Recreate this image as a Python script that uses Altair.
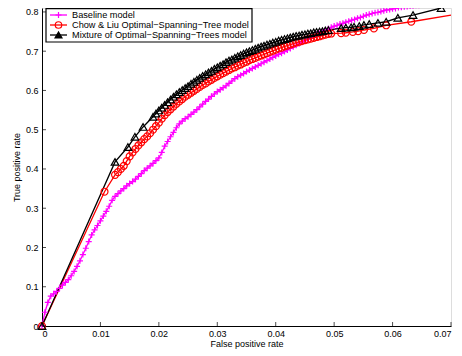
import altair as alt
import pandas as pd

# ---- data ----
base_x = [0.0, 0.0005, 0.001, 0.0015, 0.002, 0.0025, 0.003, 0.0035, 0.004, 0.0045,
          0.005, 0.0055, 0.006, 0.0065, 0.007, 0.0075, 0.008, 0.0085, 0.009, 0.0095,
          0.010, 0.0105, 0.011, 0.0115, 0.012, 0.0125, 0.013, 0.0135, 0.014, 0.0145,
          0.015, 0.0155, 0.016, 0.0165, 0.017, 0.0175, 0.018, 0.0185, 0.019, 0.0195,
          0.020, 0.0205, 0.021, 0.0215, 0.022, 0.0225, 0.023, 0.0235, 0.024, 0.0245,
          0.025, 0.0255, 0.026, 0.0265, 0.027, 0.0275, 0.028, 0.0285, 0.029, 0.0295,
          0.030, 0.0305, 0.031, 0.0315, 0.032, 0.0325, 0.033, 0.0335, 0.034, 0.0345,
          0.035, 0.0355, 0.036, 0.0365, 0.037, 0.0375, 0.038, 0.0385, 0.039, 0.0395,
          0.040, 0.0405, 0.041, 0.0415, 0.042, 0.0425, 0.043, 0.0435, 0.044, 0.0445,
          0.045, 0.0455, 0.046, 0.0465, 0.047, 0.0475, 0.048, 0.0485, 0.049, 0.0495,
          0.050, 0.0505, 0.051, 0.0515, 0.052, 0.0525, 0.053, 0.0535, 0.054, 0.0545,
          0.055, 0.0555, 0.056, 0.0565, 0.057, 0.0575, 0.058, 0.0585, 0.059, 0.0595,
          0.060, 0.0605, 0.061, 0.0615, 0.062, 0.0625, 0.063, 0.0635, 0.064, 0.0645,
          0.0649]
base_y = [0.000, 0.035, 0.060, 0.076, 0.082, 0.088, 0.096, 0.104, 0.111, 0.118,
          0.128, 0.139, 0.152, 0.166, 0.182, 0.198, 0.215, 0.232, 0.245, 0.256,
          0.268, 0.280, 0.292, 0.305, 0.320, 0.330, 0.337, 0.344, 0.350, 0.357,
          0.363, 0.368, 0.374, 0.381, 0.388, 0.396, 0.402, 0.408, 0.414, 0.421,
          0.428, 0.442, 0.458, 0.470, 0.482, 0.493, 0.505, 0.515, 0.522, 0.528,
          0.533, 0.539, 0.545, 0.551, 0.558, 0.565, 0.572, 0.578, 0.585, 0.591,
          0.597, 0.602, 0.607, 0.612, 0.618, 0.624, 0.630, 0.635, 0.639, 0.643,
          0.648, 0.652, 0.656, 0.660, 0.664, 0.668, 0.672, 0.676, 0.680, 0.684,
          0.688, 0.692, 0.695, 0.699, 0.703, 0.707, 0.711, 0.715, 0.719, 0.723,
          0.727, 0.731, 0.735, 0.738, 0.742, 0.745, 0.749, 0.753, 0.757, 0.761,
          0.764, 0.766, 0.769, 0.771, 0.774, 0.776, 0.779, 0.781, 0.784, 0.786,
          0.789, 0.792, 0.794, 0.796, 0.798, 0.799, 0.801, 0.803, 0.805, 0.806,
          0.808, 0.809, 0.811, 0.812, 0.813, 0.814, 0.815, 0.816, 0.817, 0.817,
          0.818]

chow_x = [0.0, 0.0107, 0.0125, 0.013, 0.0135, 0.014, 0.0145, 0.015, 0.0155, 0.016,
          0.0165, 0.017, 0.0175, 0.018, 0.0185, 0.019, 0.0195, 0.020, 0.0205, 0.021,
          0.0215, 0.022, 0.0225, 0.023, 0.0235, 0.024, 0.0245, 0.025, 0.0255, 0.026,
          0.0265, 0.027, 0.0275, 0.028, 0.0285, 0.029, 0.0295, 0.030, 0.0305, 0.031,
          0.0315, 0.032, 0.0325, 0.033, 0.0335, 0.034, 0.0345, 0.035, 0.0355, 0.036,
          0.0365, 0.037, 0.0375, 0.038, 0.0385, 0.039, 0.0395, 0.040, 0.0405, 0.041,
          0.0415, 0.042, 0.0425, 0.043, 0.0435, 0.044, 0.0445, 0.045, 0.0455, 0.046,
          0.0465, 0.047, 0.0475, 0.048, 0.0485, 0.049, 0.0495, 0.0512, 0.052, 0.0532,
          0.0541, 0.0551, 0.0568, 0.0589, 0.0632]
chow_y = [0.000, 0.342, 0.385, 0.392, 0.400, 0.408, 0.420, 0.432, 0.442, 0.451,
          0.460, 0.468, 0.476, 0.483, 0.491, 0.500, 0.509, 0.518, 0.528, 0.537,
          0.545, 0.552, 0.559, 0.566, 0.572, 0.578, 0.584, 0.589, 0.594, 0.599,
          0.604, 0.609, 0.614, 0.618, 0.623, 0.627, 0.632, 0.636, 0.640, 0.644,
          0.648, 0.652, 0.656, 0.659, 0.663, 0.666, 0.670, 0.673, 0.677, 0.680,
          0.683, 0.686, 0.689, 0.692, 0.695, 0.698, 0.701, 0.704, 0.707, 0.709,
          0.712, 0.714, 0.717, 0.719, 0.722, 0.724, 0.726, 0.728, 0.730, 0.732,
          0.734, 0.736, 0.738, 0.740, 0.742, 0.744, 0.745, 0.746, 0.747, 0.749,
          0.751, 0.754, 0.758, 0.766, 0.775]
chow_tail_x = [0.07]
chow_tail_y = [0.792]

mix_x = [0.0, 0.0125, 0.0147, 0.0159, 0.0173, 0.019, 0.0195, 0.020, 0.0205, 0.021,
         0.0215, 0.022, 0.0225, 0.023, 0.0235, 0.024, 0.0245, 0.025, 0.0255, 0.026,
         0.0265, 0.027, 0.0275, 0.028, 0.0285, 0.029, 0.0295, 0.030, 0.0305, 0.031,
         0.0315, 0.032, 0.0325, 0.033, 0.0335, 0.034, 0.0345, 0.035, 0.0355, 0.036,
         0.0365, 0.037, 0.0375, 0.038, 0.0385, 0.039, 0.0395, 0.040, 0.0405, 0.041,
         0.0415, 0.042, 0.0425, 0.043, 0.0435, 0.044, 0.0445, 0.045, 0.0455, 0.046,
         0.0465, 0.047, 0.0475, 0.048, 0.0485, 0.049, 0.0512, 0.052, 0.0529, 0.0534,
         0.0543, 0.0551, 0.056, 0.0575, 0.0589, 0.0609, 0.0635, 0.0683]
mix_y = [0.000, 0.418, 0.456, 0.482, 0.507, 0.533, 0.541, 0.549, 0.556, 0.563,
         0.570, 0.577, 0.584, 0.590, 0.596, 0.601, 0.606, 0.611, 0.617, 0.622,
         0.627, 0.632, 0.637, 0.641, 0.646, 0.650, 0.655, 0.659, 0.663, 0.667,
         0.672, 0.676, 0.679, 0.683, 0.687, 0.690, 0.694, 0.697, 0.700, 0.703,
         0.706, 0.709, 0.712, 0.714, 0.717, 0.719, 0.722, 0.724, 0.727, 0.729,
         0.731, 0.733, 0.735, 0.737, 0.739, 0.740, 0.742, 0.743, 0.745, 0.746,
         0.748, 0.749, 0.750, 0.751, 0.753, 0.754, 0.759, 0.760, 0.761, 0.762,
         0.764, 0.767, 0.769, 0.772, 0.775, 0.785, 0.792, 0.810]

series = ["Baseline model",
          "Chow & Liu Optimal\u2212Spanning\u2212Tree model",
          "Mixture of Optimal\u2212Spanning\u2212Trees model"]
colors = ["#ff00ff", "#ff0000", "#000000"]

x_ticks = [0, 0.01, 0.02, 0.03, 0.04, 0.05, 0.06, 0.07]
y_ticks = [0, 0.1, 0.2, 0.3, 0.4, 0.5, 0.6, 0.7, 0.8]

# ---- build tables ----
rows = []
for x, y in zip(base_x, base_y):
    rows.append({"x": x, "y": y, "series": series[0], "mk": True})
for x, y in zip(chow_x, chow_y):
    rows.append({"x": x, "y": y, "series": series[1], "mk": True})
for x, y in zip(chow_tail_x, chow_tail_y):
    rows.append({"x": x, "y": y, "series": series[1], "mk": False})
for x, y in zip(mix_x, mix_y):
    rows.append({"x": x, "y": y, "series": series[2], "mk": True})
df = pd.DataFrame(rows)

leg_df = pd.DataFrame({"series": series, "row": [0, 1, 2]})

W, H = 409, 318
FONT = "Liberation Sans"

xs = alt.Scale(domain=[0, 0.07], nice=False, zero=False)
ys = alt.Scale(domain=[0, 0.81], nice=False, zero=False)
cscale = alt.Scale(domain=series, range=colors)

common_axis = dict(grid=False, ticks=False, tickSize=0, labelOverlap=False,
                   domainColor="#000000", labelColor="#000000", titleColor="#000000",
                   labelFont=FONT, labelFontSize=9, titleFont=FONT, titleFontSize=9,
                   titleFontWeight="normal", format="~g")
xaxis = alt.Axis(values=x_ticks, title="False positive rate", labelPadding=3,
                 titlePadding=1, **common_axis)
yaxis = alt.Axis(values=y_ticks, title="True positive rate", labelPadding=4,
                 titlePadding=4, **common_axis)

base = alt.Chart(df)

lines = base.mark_line(strokeWidth=1.3).encode(
    x=alt.X("x:Q", scale=xs, axis=xaxis),
    y=alt.Y("y:Q", scale=ys, axis=yaxis),
    color=alt.Color("series:N", scale=cscale, legend=None),
)

plus_pts = base.transform_filter(alt.datum.series == series[0]).mark_point(
    shape="M-1,0H1M0,-1V1", size=36, stroke="#ff00ff", strokeWidth=1.2, fill=None, opacity=1
).encode(x=alt.X("x:Q", axis=xaxis), y=alt.Y("y:Q", axis=yaxis))

circ_pts = base.transform_filter(
    (alt.datum.series == series[1]) & (alt.datum.mk == True)
).mark_point(shape="circle", size=48, stroke="#ff0000", strokeWidth=1.2, fill=None,
             opacity=1).encode(x=alt.X("x:Q", axis=xaxis), y=alt.Y("y:Q", axis=yaxis))

tri_pts = base.transform_filter(alt.datum.series == series[2]).mark_point(
    shape="triangle-up", size=58, stroke="#000000", strokeWidth=1.2, fill=None, opacity=1
).encode(x=alt.X("x:Q", axis=xaxis), y=alt.Y("y:Q", axis=yaxis))

xt_df = pd.DataFrame({"x": x_ticks})
yt_df = pd.DataFrame({"y": y_ticks})
xtick_layer = alt.Chart(xt_df).mark_tick(color="#000000", thickness=1, size=4, yOffset=-2).encode(
    x=alt.X("x:Q", axis=xaxis), y=alt.value(H))
ytick_layer = alt.Chart(yt_df).mark_tick(color="#000000", thickness=1, size=4, xOffset=2).encode(
    y=alt.Y("y:Q", axis=yaxis), x=alt.value(0))

main = alt.layer(lines, plus_pts, circ_pts, tri_pts, xtick_layer, ytick_layer)

# ---- legend (drawn as marks on its own row scale) ----
row_scale = alt.Scale(domain=[0, 2], range=[7, 27], nice=False, zero=False)
lbase = alt.Chart(leg_df)
leg_box = lbase.transform_filter(alt.datum.row == 0).mark_rect(
    fill="#ffffff", stroke="#000000", strokeWidth=1.2
).encode(x=alt.value(4), x2=alt.value(210), y=alt.value(0.6), y2=alt.value(34))
leg_seg = lbase.mark_rule(strokeWidth=1.3).encode(
    x=alt.value(8), x2=alt.value(25),
    y=alt.Y("row:Q", scale=row_scale, axis=None),
    color=alt.Color("series:N", scale=cscale, legend=None),
)
leg_sym = lbase.mark_point(opacity=1, strokeWidth=1.2).encode(
    x=alt.value(16.5),
    y=alt.Y("row:Q", scale=row_scale, axis=None),
    shape=alt.Shape("series:N", scale=alt.Scale(domain=series,
                    range=["M-1,0H1M0,-1V1", "circle", "triangle-up"]), legend=None),
    stroke=alt.Stroke("series:N", scale=cscale, legend=None),
    fill=alt.Fill("series:N", scale=alt.Scale(domain=series,
                  range=["transparent", "transparent", "#000000"]), legend=None),
    size=alt.Size("series:N", scale=alt.Scale(domain=series, range=[36, 48, 58]), legend=None),
)
leg_txt = lbase.mark_text(align="left", baseline="middle", font=FONT, fontSize=9.2,
                          color="#000000").encode(
    x=alt.value(30),
    y=alt.Y("row:Q", scale=row_scale, axis=None),
    text="series:N",
)
leg = alt.layer(leg_box, leg_seg, leg_sym, leg_txt)

chart = alt.layer(main, leg).resolve_scale(
    x="independent", y="independent"
).properties(
    width=W, height=H,
    autosize=alt.AutoSizeParams(type="none"),
    padding={"left": 34, "top": 0, "right": 3, "bottom": 24},
).configure_view(stroke=None).configure(background="#ffffff")

chart.save("out.html", embed_options={"renderer": "svg", "actions": False})
